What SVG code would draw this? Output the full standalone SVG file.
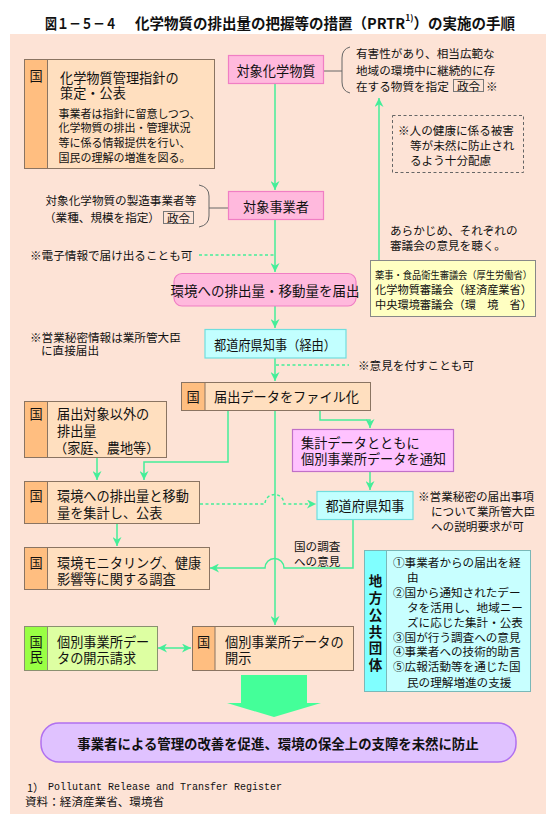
<svg xmlns="http://www.w3.org/2000/svg" width="554" height="825" viewBox="0 0 554 825">
<defs>
<style>
text{font-family:"Noto Sans CJK JP","Noto Sans CJK SC",sans-serif;fill:#111;dominant-baseline:central}
.m{font-size:13.2px}
.s{font-size:11.6px}
.xs{font-size:11px}
.c{text-anchor:middle}
.bold{font-weight:bold}
.bx{stroke:#8a7462;stroke-width:1}
.kuni{fill:#FFBE80}
.peach{fill:#FFDFBF}
.pink{fill:#FFB9DD;stroke:#F07EC4;stroke-width:1.2}
.cyan{fill:#C2FFFF;stroke:#70DEDE;stroke-width:1.2}
.ln{stroke:#44EE99;stroke-width:1.5;fill:none}
.dsh{stroke-dasharray:3 2.5}
.gl{stroke:#666;stroke-width:1;fill:none}
</style>
<marker id="ah" viewBox="0 0 10 10" refX="10" refY="5" markerWidth="9" markerHeight="9" markerUnits="userSpaceOnUse" orient="auto-start-reverse">
<path d="M0,0 L10,5 L0,10 L3,5 z" fill="#44EE99"/>
</marker>
</defs>

<rect x="0" y="0" width="554" height="825" fill="#ffffff"/>
<rect x="10" y="34" width="536" height="780" fill="#FDE3D6"/>

<g id="title">
<text x="45" y="22" class="bold" font-size="14.5" textLength="72" lengthAdjust="spacingAndGlyphs">図１－５－４</text>
<text x="135" y="22" class="bold" font-size="14.5">化学物質の排出量の把握等の措置（PRTR<tspan font-size="8.5" dy="-5">1)</tspan><tspan dy="5">）の実施の手順</tspan></text>
</g>

<g id="connectors">
<path class="ln" d="M275,83 V190" marker-end="url(#ah)"/>
<path class="ln" d="M275,220 V272" marker-end="url(#ah)"/>
<path class="ln" d="M275,306 V328" marker-end="url(#ah)"/>
<path class="ln" d="M275,358 V381" marker-end="url(#ah)"/>
<path class="ln" d="M275,410 V625" marker-end="url(#ah)"/>
<path class="ln" d="M228,410 V462 H144 V480" marker-end="url(#ah)"/>
<path class="ln" d="M97,457 V480" marker-end="url(#ah)"/>
<path class="ln" d="M320,410 V420 H370 V428" marker-end="url(#ah)"/>
<path class="ln" d="M370,471 V490" marker-end="url(#ah)"/>
<path class="ln dsh" d="M200,504 H265 A9.5,9.5 0 0 1 284,504 H316" marker-end="url(#ah)"/>
<path class="ln" d="M353,519 V568 H284 A9.5,9.5 0 0 0 265,568 H210" marker-end="url(#ah)"/>
<path class="ln" d="M117,523 V546" marker-end="url(#ah)"/>
<path class="ln" d="M158,648 H191" marker-start="url(#ah)" marker-end="url(#ah)"/>
<path class="ln" d="M379,260 V98" marker-end="url(#ah)"/>
<path class="ln dsh" d="M199,255 H275"/>
<path class="ln dsh" d="M276,365 H349"/>
<path class="gl" d="M323,71 H342"/>
<path class="gl" d="M209,208 H228"/>
</g>

<g id="n-chem-guideline">
<rect x="24.5" y="59.5" width="190" height="109" class="peach bx"/>
<rect x="24.5" y="59.5" width="23" height="109" class="kuni bx"/>
<text x="36" y="75" class="m c">国</text>
<text x="60" y="77" class="m">化学物質管理指針の</text>
<text x="60" y="92" class="m">策定・公表</text>
<text x="58.5" y="113" class="xs">事業者は指針に留意しつつ、</text>
<text x="58.5" y="127" class="xs">化学物質の排出・管理状況</text>
<text x="58.5" y="142" class="xs">等に係る情報提供を行い、</text>
<text x="58.5" y="157" class="xs">国民の理解の増進を図る。</text>
</g>

<g id="n-target-chem">
<rect x="228.5" y="55.5" width="95" height="28" class="pink"/>
<text x="276" y="70" class="m c">対象化学物質</text>
</g>

<g id="n-chem-note">
<path class="gl" d="M350,47 Q342,49 342,58 V82 Q342,91 350,93"/>
<text x="356" y="53" class="s">有害性があり、相当広範な</text>
<text x="356" y="70" class="s">地域の環境中に継続的に存</text>
<text x="356" y="86" class="s">在する物質を指定</text>
<rect x="453.5" y="79.5" width="30" height="12" fill="none" stroke="#777"/>
<text x="468.5" y="86" class="s c">政令</text>
<text x="486" y="86" class="s">※</text>
</g>

<g id="n-health-note">
<rect x="392.5" y="115.5" width="131" height="57" fill="none" stroke="#666" stroke-dasharray="3 2.5"/>
<text x="398" y="130" class="s">※人の健康に係る被害</text>
<text x="410" y="145" class="s">等が未然に防止され</text>
<text x="410" y="160" class="s">るよう十分配慮</text>
</g>

<g id="n-council-note">
<text x="390" y="230" class="s">あらかじめ、それぞれの</text>
<text x="390" y="245" class="s">審議会の意見を聴く。</text>
</g>

<g id="n-councils">
<rect x="370.5" y="260.5" width="165" height="56" fill="#FFFFC2" stroke="#888"/>
<text x="375" y="274" font-size="10" textLength="157" lengthAdjust="spacingAndGlyphs">薬事・食品衛生審議会（厚生労働省）</text>
<text x="375" y="289" font-size="11.2" textLength="157" lengthAdjust="spacingAndGlyphs">化学物質審議会（経済産業省）</text>
<text x="375" y="304" font-size="11.2" textLength="157" lengthAdjust="spacingAndGlyphs">中央環境審議会（環　境　省）</text>
</g>

<g id="n-business-note">
<text x="45.5" y="200" class="s">対象化学物質の製造事業者等</text>
<text x="44" y="217" class="s">（業種、規模を指定）</text>
<rect x="163.5" y="211.5" width="30" height="12" fill="none" stroke="#777"/>
<text x="178.5" y="217.5" class="s c">政令</text>
<path class="gl" d="M199,185 Q209,187 209,196 V216 Q209,225 199,227"/>
</g>

<g id="n-target-business">
<rect x="228.5" y="191.5" width="95" height="28" class="pink"/>
<text x="276" y="206" class="m c">対象事業者</text>
</g>

<g id="n-electronic-note">
<text x="30" y="255" class="s">※電子情報で届け出ることも可</text>
</g>

<g id="n-report">
<rect x="174" y="273.5" width="182" height="32.5" rx="8" class="pink"/>
<text x="265" y="290" font-size="13.5" class="c">環境への排出量・移動量を届出</text>
</g>

<g id="n-secret-note">
<text x="30" y="337" class="s">※営業秘密情報は業所管大臣</text>
<text x="41" y="350" class="s">に直接届出</text>
</g>

<g id="n-pref-via">
<rect x="205" y="329.5" width="141" height="28.5" class="cyan"/>
<text x="275" y="344" class="m c" textLength="122" lengthAdjust="spacingAndGlyphs">都道府県知事（経由）</text>
</g>

<g id="n-opinion-note">
<text x="358" y="365" class="s">※意見を付すことも可</text>
</g>

<g id="n-file">
<rect x="181.5" y="382.5" width="189" height="28" class="peach bx"/>
<rect x="181.5" y="382.5" width="23.5" height="28" class="kuni bx"/>
<text x="193" y="396" class="m c">国</text>
<text x="214" y="396" class="m">届出データをファイル化</text>
</g>

<g id="n-nontarget">
<rect x="24.5" y="401.5" width="142" height="56" class="peach bx"/>
<rect x="24.5" y="401.5" width="23" height="56" class="kuni bx"/>
<text x="36" y="413" class="m c">国</text>
<text x="57" y="413" class="m">届出対象以外の</text>
<text x="57" y="430" class="m">排出量</text>
<text x="54" y="447" class="m">（家庭、農地等）</text>
</g>

<g id="n-notify">
<rect x="292.5" y="429.5" width="161" height="42" fill="#FFC2FF" stroke="#C070C8" stroke-width="1.2"/>
<text x="301" y="442" class="m">集計データとともに</text>
<text x="301" y="458" class="m">個別事業所データを通知</text>
</g>

<g id="n-aggregate">
<rect x="24.5" y="481.5" width="175" height="42" class="peach bx"/>
<rect x="24.5" y="481.5" width="23" height="42" class="kuni bx"/>
<text x="36" y="495" class="m c">国</text>
<text x="57" y="495" class="m">環境への排出量と移動</text>
<text x="57" y="512" class="m">量を集計し、公表</text>
</g>

<g id="n-pref">
<rect x="317" y="491.5" width="96" height="28" class="cyan"/>
<text x="365" y="505" class="m c">都道府県知事</text>
</g>

<g id="n-secret-explain-note">
<text x="418" y="496" class="s">※営業秘密の届出事項</text>
<text x="431" y="511" class="s">について業所管大臣</text>
<text x="431" y="526" class="s">への説明要求が可</text>
</g>

<g id="n-survey-opinion">
<text x="294" y="546" class="s">国の調査</text>
<text x="294" y="561" class="s">への意見</text>
</g>

<g id="n-monitoring">
<rect x="24.5" y="547.5" width="185" height="42" class="peach bx"/>
<rect x="24.5" y="547.5" width="23" height="42" class="kuni bx"/>
<text x="36" y="562" class="m c">国</text>
<text x="57" y="562" class="m">環境モニタリング、健康</text>
<text x="57" y="578" class="m">影響等に関する調査</text>
</g>

<g id="n-local-gov">
<rect x="364.5" y="550.5" width="166" height="141" fill="#C8FFFF" stroke="#7AB8B8"/>
<rect x="364.5" y="550.5" width="22" height="141" fill="#80FFFF" stroke="#7AB8B8"/>
<text x="375.5" y="580" font-size="13.5" class="c bold">地</text>
<text x="375.5" y="597" font-size="13.5" class="c bold">方</text>
<text x="375.5" y="614" font-size="13.5" class="c bold">公</text>
<text x="375.5" y="631" font-size="13.5" class="c bold">共</text>
<text x="375.5" y="647" font-size="13.5" class="c bold">団</text>
<text x="375.5" y="664" font-size="13.5" class="c bold">体</text>
<text x="393" y="562" class="s">①事業者からの届出を経</text>
<text x="407" y="577" class="s">由</text>
<text x="393" y="592" class="s">②国から通知されたデー</text>
<text x="407" y="607" class="s">タを活用し、地域ニー</text>
<text x="407" y="622" class="s">ズに応じた集計・公表</text>
<text x="393" y="637" class="s">③国が行う調査への意見</text>
<text x="393" y="651" class="s">④事業者への技術的助言</text>
<text x="393" y="666" class="s">⑤広報活動等を通じた国</text>
<text x="407" y="682" class="s">民の理解増進の支援</text>
</g>

<g id="n-request">
<rect x="24.5" y="626.5" width="133" height="44" fill="#DDFFA2" stroke="#8a9070"/>
<rect x="24.5" y="626.5" width="23" height="44" fill="#99FF44" stroke="#8a9070"/>
<text x="36" y="641" class="m c">国</text>
<text x="36" y="656" class="m c">民</text>
<text x="57" y="641" class="m">個別事業所デー</text>
<text x="57" y="657" class="m">タの開示請求</text>
</g>

<g id="n-disclose">
<rect x="192.5" y="626.5" width="161" height="44" class="peach bx"/>
<rect x="192.5" y="626.5" width="22.5" height="44" class="kuni bx"/>
<text x="203.5" y="641" class="m c">国</text>
<text x="225" y="641" class="m">個別事業所データの</text>
<text x="225" y="657" class="m">開示</text>
</g>

<g id="n-big-arrow">
<polygon points="241,675 307,675 307,703 321,703 274,717 227,703 241,703" fill="#44FF99"/>
</g>

<g id="n-result">
<rect x="41" y="723" width="475" height="39" rx="18" fill="#E0C2FF" stroke="#B070F0" stroke-width="1.5"/>
<text x="278" y="743" font-size="13.4" class="c bold">事業者による管理の改善を促進、環境の保全上の支障を未然に防止</text>
</g>

<g id="footnotes">
<text x="27" y="787" font-size="11">1）</text>
<text x="48" y="787" font-size="10" style="font-family:'Liberation Mono',monospace">Pollutant Release and Transfer Register</text>
<text x="25" y="801" class="s">資料：経済産業省、環境省</text>
</g>
</svg>
